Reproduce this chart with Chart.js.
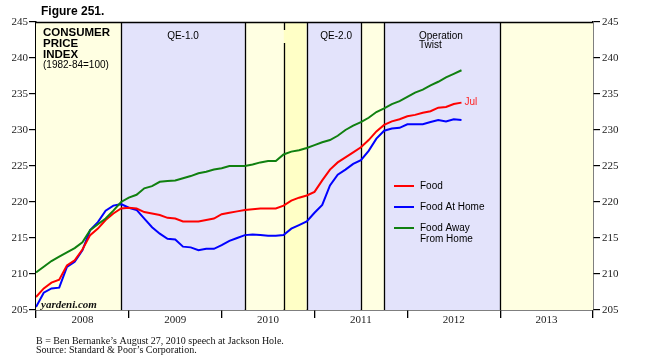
<!DOCTYPE html>
<html><head><meta charset="utf-8">
<script src="https://cdn.jsdelivr.net/npm/chart.js@4.4.1/dist/chart.umd.min.js"></script>
<style>html,body{margin:0;padding:0;background:#fff;}#wrap{width:650px;height:361px;position:relative;}</style>
</head><body><div id="wrap"><canvas id="c" width="650" height="361"></canvas></div>
<script>
// x value = months since Jan 1 2008 (point k = end of month; k=0 is Dec 2007)
const years = ['2008','2009','2010','2011','2012','2013'];
const food = [206.8,208.0,208.8,209.2,211.2,211.9,213.4,215.4,216.3,217.5,218.4,219.1,219.2,219.1,218.6,218.4,218.2,217.8,217.7,217.3,217.3,217.3,217.5,217.7,218.3,218.5,218.7,218.9,219.0,219.1,219.1,219.1,219.5,220.2,220.6,220.9,221.4,223.0,224.5,225.5,226.2,226.9,227.6,228.6,229.8,230.7,231.2,231.5,231.9,232.1,232.4,232.6,233.1,233.2,233.6,233.8];
const foodAtHome = [205.4,207.4,208.0,208.1,211.0,211.7,213.3,216.1,217.2,218.8,219.5,219.7,219.2,218.9,217.7,216.5,215.6,214.9,214.8,213.8,213.7,213.3,213.5,213.5,214.0,214.6,215.0,215.4,215.5,215.4,215.3,215.3,215.4,216.3,216.8,217.3,218.5,219.6,222.3,223.8,224.5,225.3,225.8,227.1,228.8,229.9,230.2,230.3,230.8,230.8,230.8,231.1,231.4,231.2,231.5,231.4];
const foodAway = [210.2,211.0,211.8,212.4,213.0,213.6,214.4,216.1,216.9,217.7,218.8,220.0,220.6,221.0,221.9,222.2,222.8,222.9,223.0,223.3,223.6,224.0,224.2,224.5,224.7,225.0,225.0,225.0,225.2,225.5,225.7,225.7,226.6,227.0,227.2,227.5,227.9,228.3,228.6,229.2,230.0,230.6,231.1,231.7,232.5,233.0,233.6,234.0,234.6,235.2,235.6,236.2,236.7,237.3,237.8,238.3];
const yTicks = [205,210,215,220,225,230,235,240,245];
// shaded periods (months since Jan 2008)
const bandStarts = [0,11,27,32,35,42,45,60];
const bandEnds   = [11,27,32,35,42,45,60,72];
const bandKinds  = ['y','b','y','y2','b','y','b','y'];
const eventLines = [11,27,32,35,42,45,60];

const BLUE_BG='#e3e3fb', YEL_BG='#ffffe2', YEL2_BG='#ffffc6';
const SANS='"Liberation Sans", Arial, sans-serif';
const SERIF="'Liberation Serif', 'Times New Roman', serif";

function pts(arr){ return arr.map((v,i)=>({x:i,y:v})); }

const bgPlugin = {
  id:'bg',
  beforeDatasetsDraw(chart){
    const {ctx, chartArea:a, scales:{x,y}} = chart;
    ctx.save();
    for(let i=0;i<bandStarts.length;i++){
      const x0=x.getPixelForValue(bandStarts[i]), x1=x.getPixelForValue(bandEnds[i]);
      ctx.fillStyle = bandKinds[i]==='b'?BLUE_BG:(bandKinds[i]==='y2'?YEL2_BG:YEL_BG);
      ctx.fillRect(x0,a.top,x1-x0,a.bottom-a.top);
    }
    ctx.strokeStyle='#000'; ctx.lineWidth=1.3;
    eventLines.forEach(m=>{
      const px=Math.round(x.getPixelForValue(m))+0.5;
      ctx.beginPath();
      if(m===32){
        ctx.moveTo(px,a.top); ctx.lineTo(px,a.top+8);
        ctx.moveTo(px,a.top+21); ctx.lineTo(px,a.bottom);
      } else { ctx.moveTo(px,a.top); ctx.lineTo(px,a.bottom); }
      ctx.stroke();
    });
    ctx.lineWidth=1.5;
    ctx.beginPath(); ctx.moveTo(a.left,a.top+0.5); ctx.lineTo(a.right,a.top+0.5); ctx.stroke();
    ctx.restore();
  },
  afterDraw(chart){
    const {ctx, chartArea:a, scales:{x,y}} = chart;
    ctx.save();
    ctx.fillStyle='#222'; ctx.font='11px '+SERIF; ctx.textAlign='center'; ctx.textBaseline='middle';
    years.forEach((yr,i)=>{
      ctx.fillText(yr, x.getPixelForValue(i*12+6), a.bottom+10);
    });
    // y tick labels (both sides), serif
    yTicks.forEach(v=>{
      const py=y.getPixelForValue(v);
      ctx.textAlign='right'; ctx.fillText(String(v), a.left-8, py);
      ctx.textAlign='left'; ctx.fillText(String(v), a.right+9, py);
    });
    ctx.textAlign='left'; ctx.textBaseline='alphabetic'; ctx.fillStyle='#000';
    ctx.font='bold 12px '+SANS; ctx.fillText('Figure 251.', 41, 15);
    ctx.font='bold 11.5px '+SANS;
    ctx.fillText('CONSUMER', 43, 36); ctx.fillText('PRICE', 43, 47); ctx.fillText('INDEX', 43, 58);
    ctx.font='10px '+SANS; ctx.fillText('(1982-84=100)', 43, 68);
    ctx.textAlign='center'; ctx.font='10px '+SANS;
    ctx.fillText('QE-1.0', x.getPixelForValue(19), 39);
    ctx.fillText('QE-2.0', x.getPixelForValue(38.8), 39);
    ctx.textAlign='left';
    ctx.fillText('Operation', 419, 39); ctx.fillText('Twist', 419, 48);
    ctx.fillStyle='#ff2020'; ctx.font='10px '+SANS; ctx.textBaseline='middle';
    ctx.fillText('Jul', x.getPixelForValue(55)+3, y.getPixelForValue(233.8));
    const items=[['Food','#ff0000',186],['Food At Home','#0000ff',207],['Food Away','#108010',228]];
    items.forEach(([t,c,py])=>{
      ctx.strokeStyle=c; ctx.lineWidth=2;
      ctx.beginPath(); ctx.moveTo(394,py); ctx.lineTo(414,py); ctx.stroke();
      ctx.fillStyle='#000'; ctx.font='10px '+SANS; ctx.fillText(t,420,py);
    });
    ctx.fillText('From Home',420,239);
    ctx.fillStyle='#111'; ctx.font='italic bold 11px '+SERIF; ctx.textBaseline='alphabetic';
    ctx.fillText('yardeni.com', 41, 308);
    ctx.fillStyle='#111'; ctx.font='10px '+SERIF;
    ctx.fillText('B = Ben Bernanke\u2019s August 27, 2010 speech at Jackson Hole.', 36, 344);
    ctx.fillText('Source: Standard & Poor\u2019s Corporation.', 36, 353);
    ctx.restore();
  }
};

const yScaleBase = (pos)=>({
  type:'linear', position:pos, min:205, max:245,
  afterBuildTicks(s){ s.ticks = yTicks.map(v=>({value:v})); },
  grid:{drawOnChartArea:false, color:'#000', tickLength:7, lineWidth:1.2},
  border:{display:true, color:'#000', width:1.5},
  ticks:{callback:()=>'', font:{size:1}},
  afterFit(s){ s.width = pos==='left'?36:57; }
});

new Chart(document.getElementById('c'),{
  type:'line',
  data:{datasets:[
    {label:'Food Away From Home', data:pts(foodAway), borderColor:'#108010', borderWidth:2, pointRadius:0, tension:0, yAxisID:'y'},
    {label:'Food', data:pts(food), borderColor:'#ff0000', borderWidth:2, pointRadius:0, tension:0, yAxisID:'y'},
    {label:'Food At Home', data:pts(foodAtHome), borderColor:'#0000ff', borderWidth:2, pointRadius:0, tension:0, yAxisID:'y'}
  ]},
  options:{
    responsive:false, animation:false, devicePixelRatio:1,
    layout:{padding:{top:22,left:0,right:0,bottom:0}},
    plugins:{legend:{display:false}, tooltip:{enabled:false}},
    scales:{
      x:{type:'linear', min:0, max:72,
        afterBuildTicks(s){ s.ticks=[0,12,24,36,48,60,72].map(v=>({value:v})); },
        ticks:{callback:()=>'' , font:{size:1}},
        grid:{drawOnChartArea:false, color:'#000', tickLength:8, lineWidth:1.3},
        border:{display:true,color:'#000',width:1.5},
        afterFit(s){ s.height = 51; }
      },
      y: yScaleBase('left'),
      y2: yScaleBase('right')
    }
  },
  plugins:[bgPlugin]
});
</script></body></html>
